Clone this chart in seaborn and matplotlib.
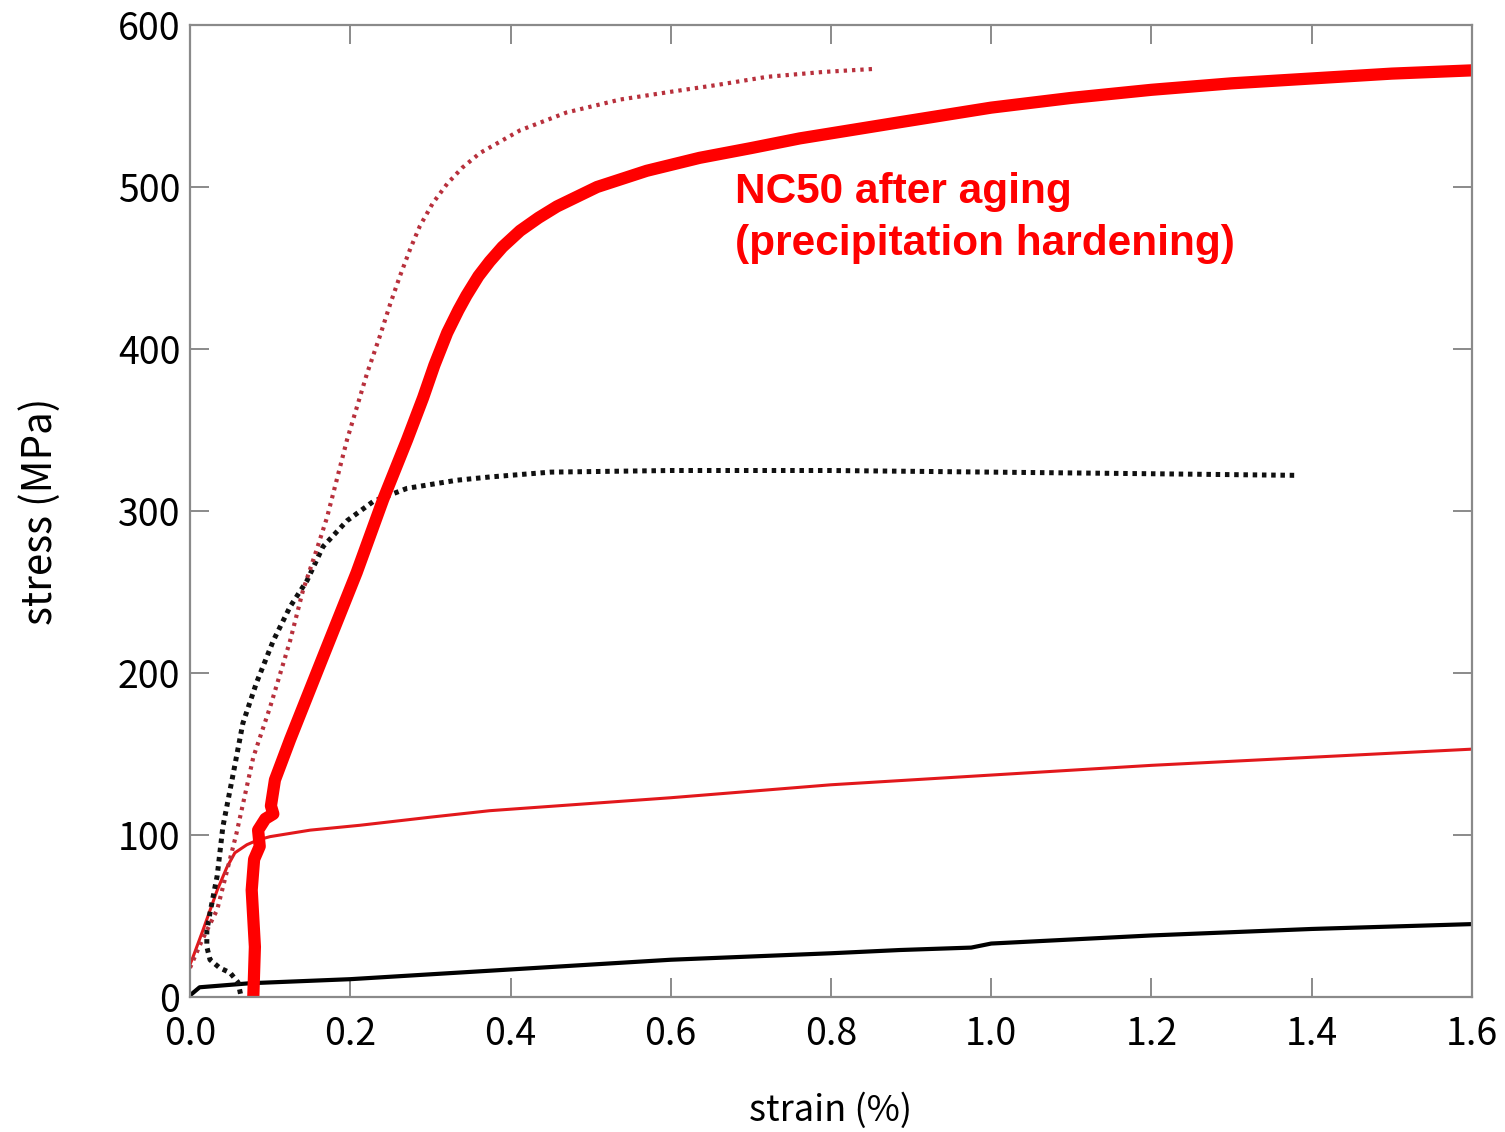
import numpy as np
import pandas as pd
import matplotlib
matplotlib.use("Agg")
import matplotlib.pyplot as plt
import seaborn as sns

# ---- stress-strain data (strain in %, stress in MPa) ----
# NC50 after aging (precipitation hardening) - thick red
aged_strain = [0.079, 0.081, 0.077, 0.080, 0.087, 0.085, 0.094, 0.104, 0.101, 0.106,
               0.125, 0.166, 0.208, 0.241, 0.271, 0.291, 0.305, 0.321, 0.335, 0.345,
               0.360, 0.374, 0.390, 0.412, 0.435, 0.458, 0.508, 0.570, 0.636, 0.700,
               0.761, 0.886, 1.000, 1.100, 1.200, 1.300, 1.400, 1.500, 1.600]
aged_stress = [0, 31, 66, 85, 93, 103, 110, 113, 118, 134,
               159, 210, 262, 307, 344, 370, 390, 410, 424, 433,
               445, 454, 463, 473, 481, 488, 500, 510, 518, 524,
               530, 540, 549, 555, 560, 564, 567, 570, 572]

# red dotted curve
red_dot_strain = [0.000, 0.015, 0.034, 0.058, 0.079, 0.100, 0.125, 0.141, 0.158, 0.171,
                  0.183, 0.196, 0.221, 0.237, 0.250, 0.262, 0.275, 0.287, 0.303, 0.321,
                  0.340, 0.362, 0.412, 0.470, 0.537, 0.603, 0.658, 0.720, 0.790, 0.857]
red_dot_stress = [18, 35, 54, 101, 148, 179, 220, 251, 276, 296,
                  319, 344, 385, 408, 428, 445, 462, 476, 490, 502,
                  512, 521, 535, 546, 554, 559, 563, 568, 571, 573]

# thin red solid curve
red_thin_strain = [0.000, 0.004, 0.016, 0.034, 0.046, 0.056, 0.071, 0.085, 0.100, 0.150,
                   0.212, 0.300, 0.374, 0.600, 0.800, 1.000, 1.200, 1.400, 1.600]
red_thin_stress = [20, 25, 41, 66, 80, 89, 94, 97, 99, 103,
                   106, 111, 115, 123, 131, 137, 143, 148, 153]

# black dotted curve
black_dot_strain = [0.063, 0.060, 0.050, 0.037, 0.025, 0.021, 0.021, 0.025, 0.034, 0.041,
                    0.054, 0.066, 0.083, 0.104, 0.125, 0.146, 0.166, 0.196, 0.229, 0.271,
                    0.333, 0.374, 0.450, 0.600, 0.800, 1.000, 1.200, 1.382]
black_dot_stress = [2, 9, 15, 18, 23, 31, 41, 52, 75, 105,
                    138, 169, 194, 220, 241, 257, 278, 294, 306, 314,
                    319, 321, 324, 325, 325, 324, 323, 322]

# black solid curve
black_strain = [0.000, 0.012, 0.075, 0.200, 0.400, 0.600, 0.800, 0.886, 0.975, 0.985,
                1.000, 1.200, 1.400, 1.600]
black_stress = [1, 6, 8.5, 11, 17, 23, 27, 29, 30.5, 31.5,
                33, 38, 42, 45]

x_ticks = [0.0, 0.2, 0.4, 0.6, 0.8, 1.0, 1.2, 1.4, 1.6]
y_ticks = [0, 100, 200, 300, 400, 500, 600]

sns.set_theme(style="ticks")
plt.rcParams["font.family"] = ["Noto Sans CJK JP", "DejaVu Sans"]

fig = plt.figure(figsize=(15.05, 11.32), dpi=100)
ax = fig.add_axes([190 / 1505, 1 - 997 / 1132, (1472 - 190) / 1505, (997 - 25) / 1132])


def draw(strain, stress, **kw):
    df = pd.DataFrame({"strain": strain, "stress": stress})
    sns.lineplot(data=df, x="strain", y="stress", sort=False, estimator=None,
                 ax=ax, **kw)


draw(black_strain, black_stress, color="black", linewidth=3.0,
     solid_joinstyle="round")
draw(red_thin_strain, red_thin_stress, color="#e2181c", linewidth=2.2,
     solid_joinstyle="round")
draw(black_dot_strain, black_dot_stress, color="#111111", linewidth=3.6)
draw(red_dot_strain, red_dot_stress, color="#b8303c", linewidth=3.0)
draw(aged_strain, aged_stress, color="#ff0000", linewidth=8.8,
     solid_joinstyle="round", solid_capstyle="butt")

# dotted styles for the two dotted curves
lines = ax.get_lines()
lines[2].set_linestyle((0, (0.9, 0.95)))
lines[3].set_linestyle((0, (0.8, 1.2)))

ax.set_xlim(0, 1.6)
ax.set_ylim(0, 600)
ax.set_xticks(x_ticks)
ax.set_yticks(y_ticks)
ax.set_xticklabels([f"{t:.1f}" for t in x_ticks])
ax.set_yticklabels([str(t) for t in y_ticks])

spine_color = "#8a8a8a"
for s in ax.spines.values():
    s.set_visible(True)
    s.set_color(spine_color)
    s.set_linewidth(1.6)
ax.tick_params(axis="both", which="major", direction="in", length=14, width=1.4,
               color=spine_color, labelsize=27, labelcolor="black",
               top=True, right=True)
ax.tick_params(axis="x", pad=13)
ax.tick_params(axis="y", pad=7)

ax.set_xlabel("strain (%)", fontsize=26, color="black")
ax.set_ylabel("stress (MPa)", fontsize=29, color="black")
ax.xaxis.set_label_coords(0.5, -0.098)
ax.yaxis.set_label_coords(-0.101, 0.5)

ax.text(0.425, 0.849, "NC50 after aging\n(precipitation hardening)",
        transform=ax.transAxes, color="#ff0000", fontsize=30.5, fontweight="bold",
        family=["Liberation Sans", "DejaVu Sans"], ha="left", va="top",
        linespacing=1.38)

ax.set_facecolor("white")
fig.patch.set_facecolor("white")
fig.savefig("out.png", dpi=100)
